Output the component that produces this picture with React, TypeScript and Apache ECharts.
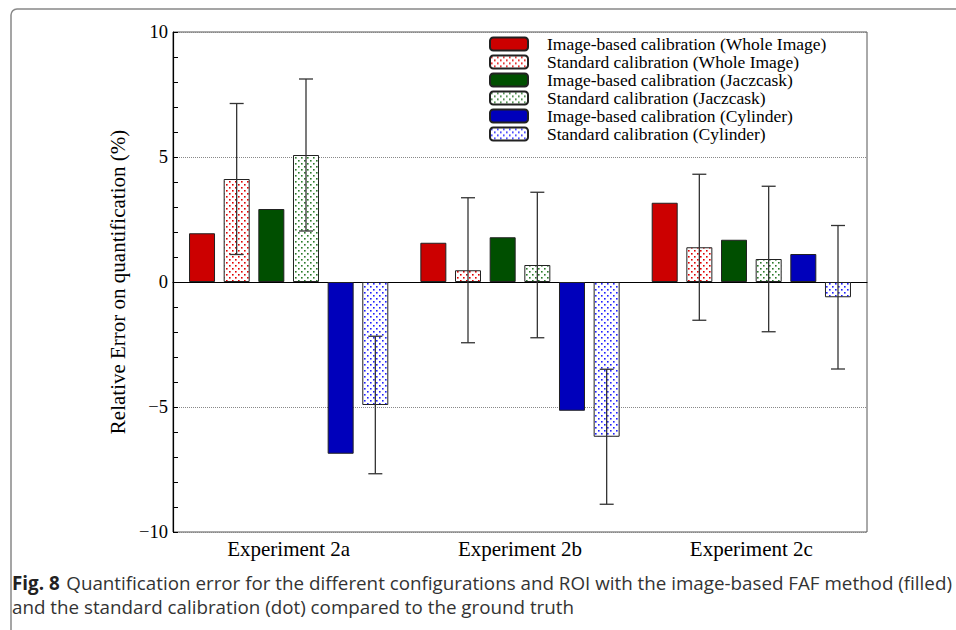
import React, { useEffect, useRef } from "react";
import * as echarts from "echarts";

const categories = ["Experiment 2a", "Experiment 2b", "Experiment 2c"];
const imgWhole = [1.95, 1.57, 3.17];
const stdWhole = [4.12, 0.47, 1.39];
const stdWholeErr = [3.02, 2.9, 2.92];
const imgJac = [2.92, 1.79, 1.69];
const stdJac = [5.08, 0.68, 0.92];
const stdJacErr = [3.04, 2.91, 2.91];
const imgCyl = [-6.87, -5.15, 1.12];
const stdCyl = [-4.92, -6.19, -0.61];
const stdCylErr = [2.75, 2.7, 2.87];
const seriesNames = [
  "Image-based calibration (Whole Image)",
  "Standard calibration (Whole Image)",
  "Image-based calibration (Jaczcask)",
  "Standard calibration (Jaczcask)",
  "Image-based calibration (Cylinder)",
  "Standard calibration (Cylinder)",
];
const yTicks = [-10, -5, 0, 5, 10];
const caption1 = "Quantification error for the different configurations and ROI with the image-based FAF method (filled)";
const caption2 = "and the standard calibration (dot) compared to the ground truth";

const SERIF = "'Liberation Serif', 'Times New Roman', serif";
const SANS = "'Open Sans', 'Noto Sans', sans-serif";

function dotPattern(color: string) {
  const c = document.createElement("canvas");
  c.width = 6;
  c.height = 6;
  const ctx = c.getContext("2d")!;
  ctx.fillStyle = "#ffffff";
  ctx.fillRect(0, 0, 6, 6);
  ctx.fillStyle = color;
  ctx.fillRect(1, 1, 1.6, 1.6);
  ctx.fillRect(4, 4, 1.6, 1.6);
  return { image: c, repeat: "repeat" } as any;
}

export default function App() {
  const ref = useRef<HTMLDivElement>(null);
  useEffect(() => {
    if (!ref.current) return;
    const chart = echarts.init(ref.current, null, { renderer: "svg" });
    const barWidth = 26;
    const barGap = 1 / 3;
    const pitch = barWidth * (1 + barGap);
    const fills = [
      "#cc0000",
      dotPattern("#e00000"),
      "#004f00",
      dotPattern("#2a7a2a"),
      "#0000bb",
      dotPattern("#2020ff"),
    ];
    const values = [imgWhole, stdWhole, imgJac, stdJac, imgCyl, stdCyl];
    const errs: (number[] | null)[] = [null, stdWholeErr, null, stdJacErr, null, stdCylErr];

    const barSeries = values.map((vals, k) => ({
      name: seriesNames[k],
      type: "bar",
      data: vals,
      barWidth,
      barGap: "33.3%",
      itemStyle: { color: fills[k], borderColor: "#222", borderWidth: 1 },
      z: 3,
    }));

    const errSeries = errs
      .map((e, k) => {
        if (!e) return null;
        const offset = (k - 2.5) * pitch;
        return {
          type: "custom",
          name: "err" + k,
          z: 10,
          silent: true,
          data: categories.map((_, i) => [i, values[k][i], e[i]]),
          encode: { x: 0, y: 1 },
          renderItem: (params: any, api: any) => {
            const ci = api.value(0);
            const v = api.value(1);
            const er = api.value(2);
            const hi = api.coord([ci, v + er]);
            const lo = api.coord([ci, v - er]);
            const x = hi[0] + offset;
            const cap = 7;
            const st = { stroke: "#333", lineWidth: 1.3 };
            return {
              type: "group",
              children: [
                { type: "line", shape: { x1: x, y1: hi[1], x2: x, y2: lo[1] }, style: st },
                { type: "line", shape: { x1: x - cap, y1: hi[1], x2: x + cap, y2: hi[1] }, style: st },
                { type: "line", shape: { x1: x - cap, y1: lo[1], x2: x + cap, y2: lo[1] }, style: st },
              ],
            };
          },
        };
      })
      .filter(Boolean);

    chart.setOption({
      animation: false,
      backgroundColor: "#ffffff",
      grid: {
        left: 173,
        right: 89,
        top: 32,
        bottom: 98,
        show: true,
        borderColor: "#555",
        borderWidth: 1,
        backgroundColor: "transparent",
      },
      legend: {
        data: seriesNames,
        orient: "vertical",
        left: 489,
        top: 35,
        padding: 0,
        itemWidth: 38,
        itemHeight: 13,
        itemGap: 0,
        selectedMode: false,
        textStyle: {
          fontFamily: SERIF,
          fontSize: 17.5,
          color: "#000",
          padding: [0, 0, 0, 14],
          lineHeight: 17.2,
        },
      },
      xAxis: {
        type: "category",
        data: categories,
        axisLine: { lineStyle: { color: "#000", width: 1 } },
        axisTick: { inside: true, alignWithLabel: true, length: 7, lineStyle: { color: "#555" } },
        axisLabel: { fontFamily: SERIF, fontSize: 21, color: "#000", margin: 6 },
        splitLine: { show: false },
      },
      yAxis: {
        type: "value",
        min: -10,
        max: 10,
        interval: 5,
        name: "Relative Error on quantification (%)",
        nameLocation: "middle",
        nameGap: 43,
        nameTextStyle: { fontFamily: SERIF, fontSize: 21, color: "#000" },
        axisLine: { show: true, lineStyle: { color: "#000", width: 1.2 } },
        axisTick: { show: true, inside: true, length: 5, lineStyle: { color: "#000" } },
        minorTick: { show: true, splitNumber: 5, length: 5, lineStyle: { color: "#000" } },
        axisLabel: {
          fontFamily: SERIF,
          fontSize: 18.5,
          color: "#000",
          margin: 5,
          formatter: (v: number) => (yTicks.includes(v) ? (v < 0 ? "\u2212" + Math.abs(v) : String(v)) : ""),
        },
        splitLine: { show: true, lineStyle: { color: "#888", type: [1, 1], width: 1 } },
      },
      series: [...barSeries, ...errSeries],
      graphic: [
        {
          type: "rect",
          shape: { x: 11, y: 9, width: 1000, height: 700, r: 6 },
          style: { fill: "none", stroke: "#888", lineWidth: 1.5 },
          silent: true,
          z: -1,
        },
        {
          type: "text",
          left: 12,
          top: 573,
          style: {
            text: "{b|Fig. 8}  {r|" + caption1 + "}",
            rich: {
              b: { fontFamily: SANS, fontSize: 18.8, fontWeight: "bold", fill: "#222" },
              r: { fontFamily: SANS, fontSize: 18.8, fill: "#333" },
            },
          },
        },
        {
          type: "text",
          left: 12,
          top: 597,
          style: { text: caption2, fontFamily: SANS, fontSize: 18.8, fill: "#333" },
        },
      ],
    });
    return () => chart.dispose();
  }, []);
  return <div ref={ref} style={{ width: 956, height: 630, position: "absolute", left: 0, top: 0 }} />;
}
